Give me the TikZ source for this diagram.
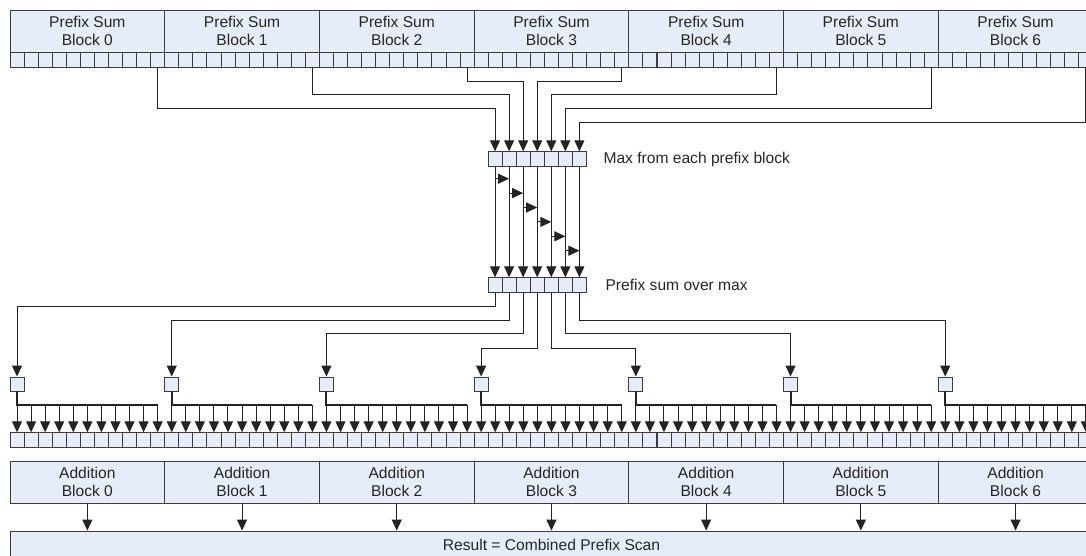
\documentclass[tikz,border=0pt]{standalone}
\usepackage{fontspec}
\setmainfont{Liberation Sans}
\usetikzlibrary{arrows.meta,calc}
\definecolor{cell_fill}{RGB}{230,236,248}
\definecolor{cell_line}{RGB}{60,60,60}
\definecolor{wire_gray}{RGB}{35,35,35}

\begin{document}
\begin{tikzpicture}[x=1pt, y=-1pt, font=\fontsize{15.6}{18}\selectfont,
  cell/.style={draw=cell_line, fill=cell_fill, line width=0.9pt, minimum width=14.06pt, minimum height=14.5pt, inner sep=0pt},
  blockbox/.style={draw=cell_line, fill=cell_fill, line width=0.9pt, minimum width=154.7pt, minimum height=42pt, inner sep=0pt, align=center, text=black!85},
  wire/.style={draw=wire_gray, line width=1pt},
  arr/.style={wire, -{Triangle[width=10pt,length=11pt]}}]
        \useasboundingbox (0,0) rectangle (1086,555);
        \foreach \k in {0,...,6}{
          \node[blockbox] (pb\k) at ({87.35+154.7*\k},31) {Prefix Sum\\Block \k};
          \node[blockbox] (ab\k) at ({87.35+154.7*\k},482) {Addition\\Block \k};
        }
        \foreach \i in {0,...,76}{
          \node[cell] (t\i) at ({17.03+14.064*\i},59.7) {};
          \node[cell] (b\i) at ({17.03+14.064*\i},440) {};
        }
        \foreach \j in {0,...,6}{
          \node[cell] (m\j) at ({495.03+14.064*\j},159) {};
          \node[cell] (p\j) at ({495.03+14.064*\j},285) {};
          \draw[arr] (m\j.south) -- (p\j.north);
        }
        \node[anchor=west,text=black!85] (maxlbl) at (600,159) {Max from each prefix block};
        \node[anchor=west,text=black!85] (sumlbl) at (602,285) {Prefix sum over max};
        \foreach \k/\dy in {0/41,1/27,2/14,3/14,4/27,5/41,6/55}{
          \pgfmathtruncatemacro{\last}{11*\k+10}
          \draw[arr] (t\last.south) -- ++(0,\dy) -| (m\k.north);
        }
        \foreach \j in {0,...,5}{
          \pgfmathtruncatemacro{\nxt}{\j+1}
          \draw[arr] ($(m\j.south)+(0,{12+14.4*\j})$) -- ($(m\nxt.south)+(0,{12+14.4*\j})$);
        }
        \foreach \k/\dy in {0/14,1/28,2/41,3/56,4/56,5/41,6/28}{
          \node[cell, minimum height=14pt] (s\k) at ({17.03+154.7*\k},384) {};
          \draw[arr] (p\k.south) -- ++(0,\dy) -| (s\k.north);
        }
        \foreach \k in {0,...,6}{
          \pgfmathtruncatemacro{\first}{11*\k}
          \pgfmathtruncatemacro{\last}{11*\k+10}
          \coordinate (h\k) at ($(s\k.south)+(0,14)$);
          \draw[wire, line width=2pt] (s\k.south) -- (h\k) -- (h\k -| b\last.north);
          \foreach \i in {\first,...,\last}
            \draw[arr] (h\k -| b\i.north) -- (b\i.north);
        }
        \node[draw=cell_line, fill=cell_fill, line width=0.9pt, minimum width=1083pt, minimum height=28pt, inner sep=0pt, text=black!85] (res) at (551.5,545) {Result = Combined Prefix Scan};
        \foreach \k in {0,...,6}
          \draw[arr] (ab\k.south) -- (ab\k.south |- res.north);
\end{tikzpicture}
\end{document}
